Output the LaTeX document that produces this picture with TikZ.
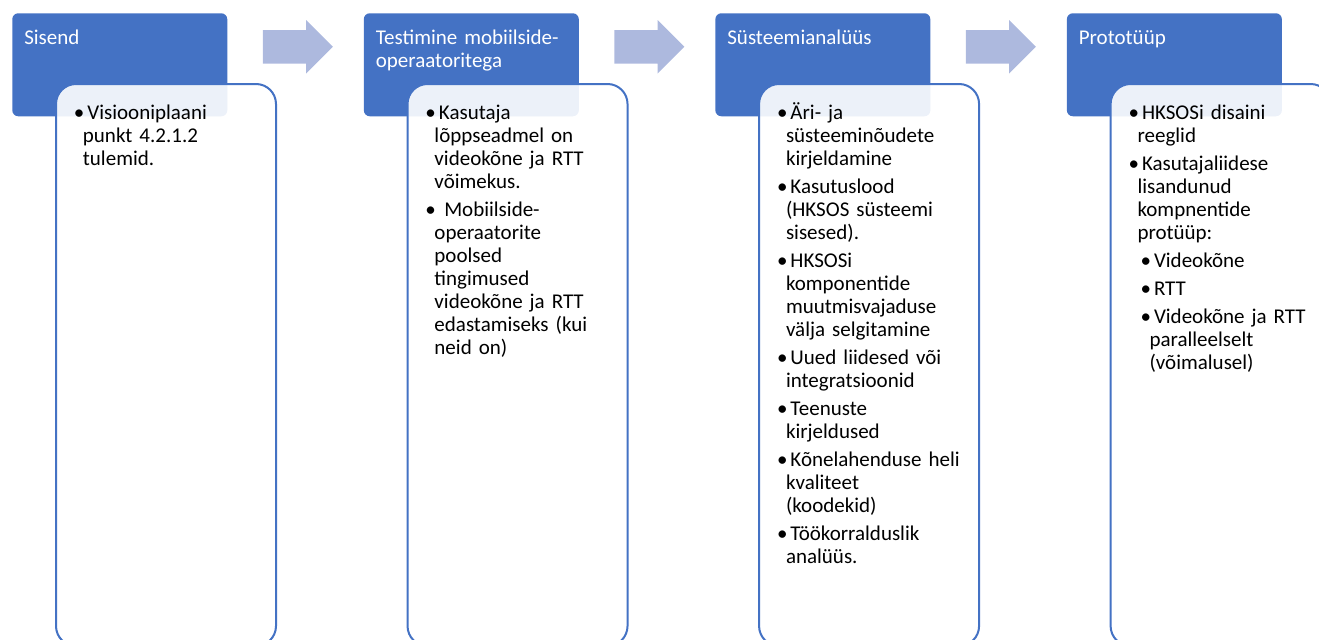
\documentclass[tikz,border=0pt]{standalone}
\usepackage{fontspec}
\setmainfont{Carlito}
\usepackage{tikz}
\usetikzlibrary{positioning,shapes.arrows}

\definecolor{hdrblue}{HTML}{4472C4}
\definecolor{flowblue}{HTML}{ADB9DE}

% bullet lists inside the white boxes
\newenvironment{pts}{\begin{list}{\textbullet}{%
  \setlength\leftmargin{6.75pt}\setlength\labelsep{2.25pt}%
  \setlength\labelwidth{4.5pt}\setlength\itemsep{3.75pt}%
  \setlength\topsep{0pt}\setlength\partopsep{0pt}\setlength\parsep{0pt}}}{\end{list}}
\newenvironment{subpts}{\begin{list}{\textbullet}{%
  \setlength\leftmargin{9pt}\setlength\labelsep{2.25pt}%
  \setlength\labelwidth{4.5pt}\setlength\itemsep{3.75pt}%
  \setlength\topsep{3.75pt}\setlength\partopsep{0pt}\setlength\parsep{0pt}}}{\end{list}}

\begin{document}
\begin{tikzpicture}[x=0.75pt,y=-0.75pt,
  every node/.style={font=\fontsize{15.75pt}{17.25pt}\selectfont},
  head/.style={fill=hdrblue,rounded corners=4.5pt,minimum width=161.25pt,minimum height=77.25pt,inner sep=0pt},
  headtxt/.style={text=white,text width=150pt,align=left,inner sep=0pt},
  body/.style={draw=hdrblue,line width=1.5pt,fill=white,fill opacity=0.9,rounded corners=15pt,minimum width=165pt,minimum height=421.5pt,inner sep=0pt},
  bodytxt/.style={text width=150pt,align=left,inner sep=0pt},
  flow/.style={single arrow,fill=flowblue,minimum height=52.5pt,minimum width=39.75pt,single arrow head extend=7.5pt,inner xsep=0pt,inner ysep=12.375pt}]
\useasboundingbox (0,0) rectangle (1319,639);

% blue title boxes
\node[head,anchor=north west] (h1) at (12,13) {};
\node[head,right=102pt of h1] (h2) {};
\node[head,right=102pt of h2] (h3) {};
\node[head,right=102pt of h3] (h4) {};

% white boxes, lying over the titles
\node[body,below right=52.5pt and 32.25pt of h1.north west] (b1) {};
\node[body,below right=52.5pt and 32.25pt of h2.north west] (b2) {};
\node[body,below right=52.5pt and 32.25pt of h3.north west] (b3) {};
\node[body,below right=52.5pt and 32.25pt of h4.north west] (b4) {};

% arrows between the steps
\node[flow,right=26.25pt of h1.east,yshift=13.5pt] (a1) {};
\node[flow,right=26.25pt of h2.east,yshift=13.5pt] (a2) {};
\node[flow,right=26.25pt of h3.east,yshift=13.5pt] (a3) {};

% titles
\node[headtxt,below right=23.25pt and 9pt of h1.north west,anchor=base west] (t1) {Sisend};
\node[headtxt,below right=23.25pt and 9pt of h2.north west,anchor=base west] (t2) {Testimine mobiilside-\\operaatoritega};
\node[headtxt,below right=23.25pt and 9pt of h3.north west,anchor=base west] (t3) {Süsteemianalüüs};
\node[headtxt,below right=23.25pt and 9pt of h4.north west,anchor=base west] (t4) {Prototüüp};

% contents
\node[bodytxt,below right=9.75pt and 14pt of b1.north west,anchor=base west] (p1) {%
\begin{pts}
\item Visiooniplaani\\punkt 4.2.1.2\\tulemid.
\end{pts}};
\node[bodytxt,below right=9.75pt and 14pt of b2.north west,anchor=base west] (p2) {%
\begin{pts}
\item Kasutaja\\lõppseadmel on\\videokõne ja RTT\\võimekus.
\item\hspace{4pt}Mobiilside-\\operaatorite\\poolsed\\tingimused\\videokõne ja RTT\\edastamiseks (kui\\neid on)
\end{pts}};
\node[bodytxt,below right=9.75pt and 14pt of b3.north west,anchor=base west] (p3) {%
\begin{pts}
\item Äri- ja\\süsteeminõudete\\kirjeldamine
\item Kasutuslood\\(HKSOS süsteemi\\sisesed).
\item HKSOSi\\komponentide\\muutmisvajaduse\\välja selgitamine
\item Uued liidesed või\\integratsioonid
\item Teenuste\\kirjeldused
\item Kõnelahenduse heli\\kvaliteet\\(koodekid)
\item Töökorralduslik\\analüüs.
\end{pts}};
\node[bodytxt,below right=9.75pt and 14pt of b4.north west,anchor=base west] (p4) {%
\begin{pts}
\item HKSOSi disaini\\reeglid
\item Kasutajaliidese\\lisandunud\\kompnentide\\protüüp:
\begin{subpts}
\item Videokõne
\item RTT
\item Videokõne ja RTT\\paralleelselt\\(võimalusel)
\end{subpts}
\end{pts}};
\end{tikzpicture}
\end{document}
